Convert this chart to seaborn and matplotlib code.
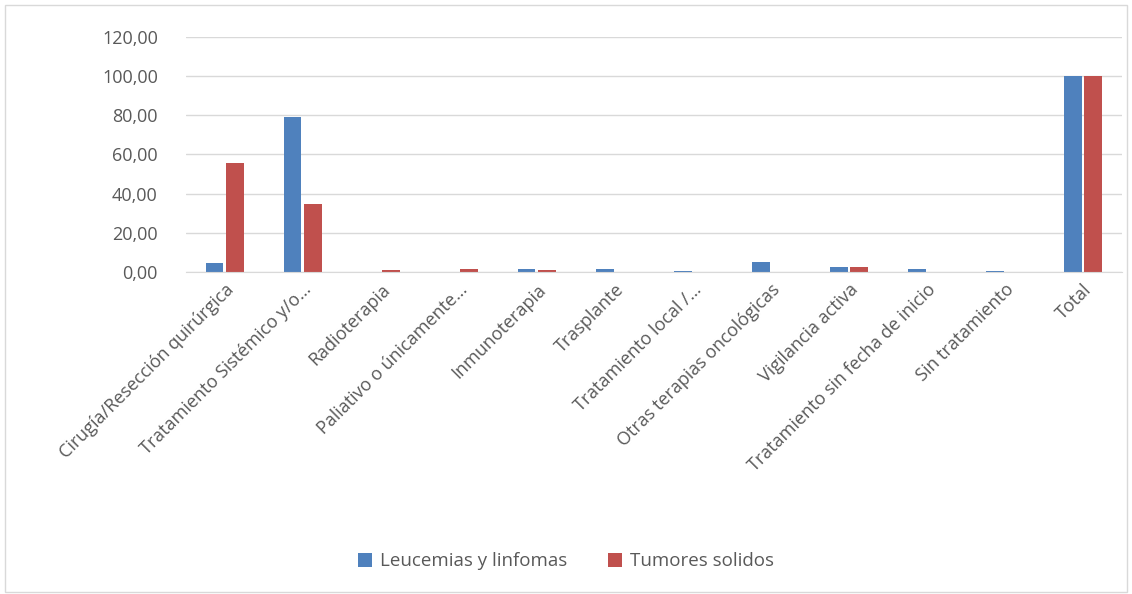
import matplotlib
matplotlib.use("Agg")
import matplotlib.pyplot as plt
import seaborn as sns
import pandas as pd
from matplotlib.ticker import FuncFormatter
from matplotlib.patches import Rectangle

categories = [
    "Cirugía/Resección quirúrgica",
    "Tratamiento Sistémico y/o…",
    "Radioterapia",
    "Paliativo o únicamente…",
    "Inmunoterapia",
    "Trasplante",
    "Tratamiento local /…",
    "Otras terapias oncológicas",
    "Vigilancia activa",
    "Tratamiento sin fecha de inicio",
    "Sin tratamiento",
    "Total",
]
leucemias = [4.4, 79.0, 0.0, 0.0, 1.6, 1.6, 0.6, 5.2, 2.5, 1.6, 0.6, 100.0]
tumores = [55.6, 34.7, 1.2, 1.8, 0.8, 0.0, 0.0, 0.2, 2.6, 0.2, 0.0, 100.0]
series_names = ["Leucemias y linfomas", "Tumores solidos"]
colors = ["#4F81BD", "#C0504D"]

df = pd.DataFrame({
    "cat": categories * 2,
    "val": leucemias + tumores,
    "serie": [series_names[0]] * len(categories) + [series_names[1]] * len(categories),
})

sns.set_style("white")
plt.rcParams["font.family"] = ["Open Sans", "DejaVu Sans"]
txt = "#595959"

fig = plt.figure(figsize=(11.32, 5.94), dpi=100)
ax = fig.add_axes([0.164, 0.542, 0.827, 0.396])
sns.barplot(data=df, x="cat", y="val", hue="serie", palette=colors,
            width=0.52, gap=0.12, ax=ax, saturation=1, errorbar=None,
            edgecolor="none")

ax.set_ylim(0, 120)
ax.set_yticks(range(0, 121, 20))
ax.yaxis.set_major_formatter(FuncFormatter(lambda v, p: f"{v:.2f}".replace(".", ",")))
ax.grid(axis="y", color="#d9d9d9", linewidth=1)
ax.set_axisbelow(True)
for s in ["top", "right", "left"]:
    ax.spines[s].set_visible(False)
ax.spines["bottom"].set_color("#d9d9d9")
ax.tick_params(axis="both", length=0, colors=txt, labelsize=13)
ax.tick_params(axis="y", pad=20)
ax.tick_params(axis="x", pad=6)
plt.setp(ax.get_xticklabels(), rotation=45, ha="right", rotation_mode="anchor")
ax.set_xlabel("")
ax.set_ylabel("")
ax.set_xlim(-0.5, len(categories) - 0.5)

leg = ax.legend(loc="center", bbox_to_anchor=(0.5, 0.055), bbox_transform=fig.transFigure,
                ncol=2, frameon=False, fontsize=13.5, handlelength=0.75, handleheight=0.75,
                columnspacing=2.2, handletextpad=0.4)
for t in leg.get_texts():
    t.set_color(txt)

fig.patches.append(Rectangle((0.004, 0.004), 0.992, 0.988, transform=fig.transFigure,
                             fill=False, edgecolor="#d9d9d9", linewidth=1))

fig.savefig("out.png", dpi=100)
